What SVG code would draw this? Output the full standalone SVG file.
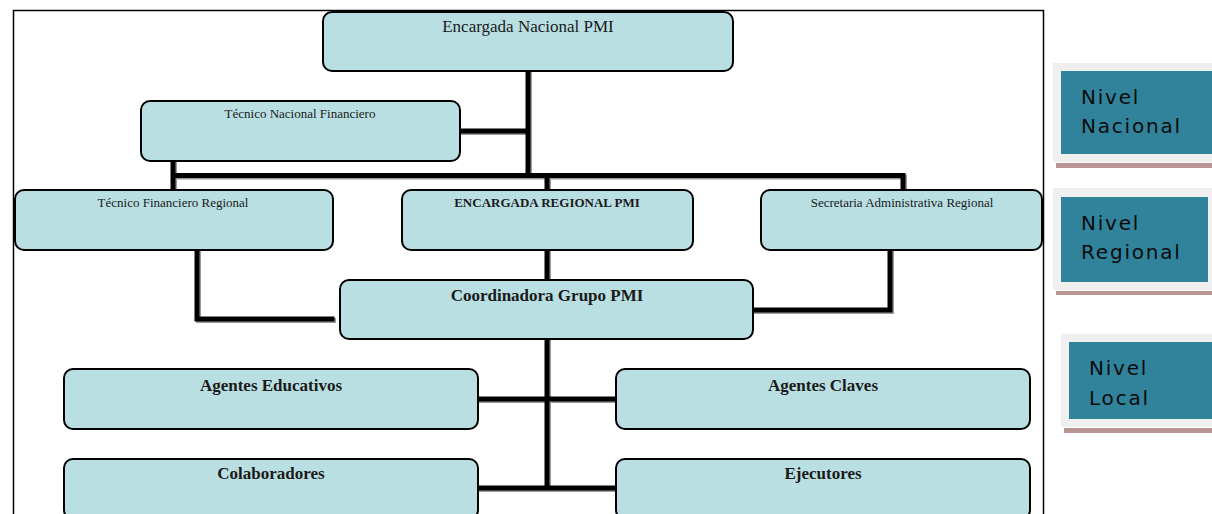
<svg xmlns="http://www.w3.org/2000/svg" width="1212" height="514" viewBox="0 0 1212 514">
<style>
.box{fill:#B9DFE2;stroke:#000;stroke-width:2}
.t{font-family:"Liberation Serif","Times New Roman",serif;fill:#1a1a1a;text-anchor:middle}
.s{font-size:13px}
.b{font-weight:bold;font-size:17px}
.n{font-size:17px}
.c{stroke:#000;stroke-width:5;fill:none;stroke-linecap:square}
.sh{stroke:#999;stroke-width:5;fill:none;stroke-linecap:square}
.lvO{fill:#EFEFEF}
.lvI{fill:#31839B}
.lvB{fill:#B99494}
.lt{font-family:"DejaVu Sans",Verdana,sans-serif;font-size:20px;fill:#0a0a0a;letter-spacing:1.8px}
</style>
<rect width="1212" height="514" fill="#fff"/>
<rect x="13.5" y="10.5" width="1030" height="520" fill="none" stroke="#000" stroke-width="1.5"/>
<g id="connectors">
<g transform="translate(1.5,1.5)">
<path class="sh" d="M528 71V175M460 131H528M173 175.5H903V190M173 161V190M547 178V190M890 245V310H753M197 250V319H332M547 250V280M547 339V488M478 399H616M478 488H616"/>
</g>
<path class="c" d="M528 71V175M460 131H528M173 175.5H903V190M173 161V190M547 178V190M890 245V310H753M197 250V319H332M547 250V280M547 339V488M478 399H616M478 488H616"/>
</g>
<g id="n-encargada-nacional"><rect class="box" x="323" y="12" width="410" height="59" rx="9"/><text class="t n" x="528" y="32">Encargada Nacional PMI</text></g>
<g id="n-tecnico-nacional"><rect class="box" x="141" y="101" width="319" height="60" rx="9"/><text class="t s" x="300" y="118">Técnico Nacional Financiero</text></g>
<g id="n-tecnico-regional"><rect class="box" x="15" y="190" width="318" height="60" rx="9"/><text class="t s" x="173" y="207">Técnico Financiero Regional</text></g>
<g id="n-encargada-regional"><rect class="box" x="402" y="190" width="291" height="60" rx="9"/><text class="t s" x="547" y="207" font-weight="bold">ENCARGADA REGIONAL PMI</text></g>
<g id="n-secretaria"><rect class="box" x="761" y="190" width="281" height="60" rx="9"/><text class="t s" x="902" y="207">Secretaria Administrativa Regional</text></g>
<g id="n-coordinadora"><rect class="box" x="340" y="280" width="413" height="59" rx="9"/><text class="t b" x="547" y="301">Coordinadora Grupo PMI</text></g>
<g id="n-agentes-educativos"><rect class="box" x="64" y="369" width="414" height="60" rx="9"/><text class="t b" x="271" y="391">Agentes Educativos</text></g>
<g id="n-agentes-claves"><rect class="box" x="616" y="369" width="414" height="60" rx="9"/><text class="t b" x="823" y="391">Agentes Claves</text></g>
<g id="n-colaboradores"><rect class="box" x="64" y="459" width="414" height="60" rx="9"/><text class="t b" x="271" y="479">Colaboradores</text></g>
<g id="n-ejecutores"><rect class="box" x="616" y="459" width="414" height="60" rx="9"/><text class="t b" x="823" y="479">Ejecutores</text></g>
<g id="lv-nacional">
<rect class="lvO" x="1053" y="63" width="159" height="99"/>
<rect class="lvI" x="1061" y="71" width="151" height="83"/>
<rect class="lvB" x="1056" y="163" width="156" height="5"/>
<text class="lt" x="1081" y="104">Nivel</text><text class="lt" x="1081" y="133">Nacional</text>
</g>
<g id="lv-regional">
<rect class="lvO" x="1053" y="188" width="159" height="102"/>
<rect class="lvI" x="1061" y="197" width="147" height="85"/>
<rect class="lvB" x="1056" y="291" width="156" height="4"/>
<text class="lt" x="1081" y="230">Nivel</text><text class="lt" x="1081" y="259">Regional</text>
</g>
<g id="lv-local">
<rect class="lvO" x="1061" y="334" width="151" height="93"/>
<rect class="lvI" x="1069" y="342" width="143" height="77"/>
<rect class="lvB" x="1064" y="428" width="148" height="5"/>
<text class="lt" x="1089" y="375">Nivel</text><text class="lt" x="1089" y="405">Local</text>
</g>
</svg>
